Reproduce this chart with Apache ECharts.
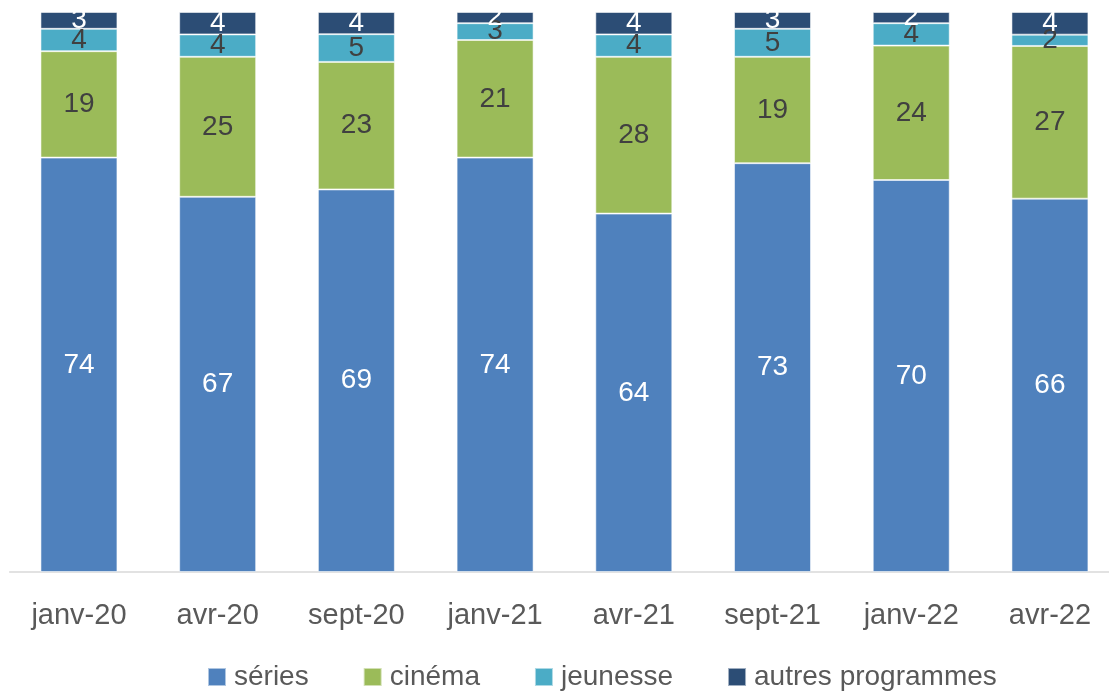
<!DOCTYPE html>
<html>
<head>
<meta charset="utf-8">
<script src="https://cdn.jsdelivr.net/npm/echarts@6/dist/echarts.min.js"></script>
<style>
  html, body { margin: 0; padding: 0; background: #fff; }
  #chart { width: 1109px; height: 691px; }
</style>
</head>
<body>
<div id="chart"></div>
<script>
// mois
const categories = ['janv-20', 'avr-20', 'sept-20', 'janv-21', 'avr-21', 'sept-21', 'janv-22', 'avr-22'];
// parts (%)
const series_ = [74, 67, 69, 74, 64, 73, 70, 66];
const cinema = [19, 25, 23, 21, 28, 19, 24, 27];
const jeunesse = [4, 4, 5, 3, 4, 5, 4, 2];
const autres = [3, 4, 4, 2, 4, 3, 2, 4];

const FONT = '"Liberation Sans", Arial, sans-serif';

// graphique 100% empilé : chaque barre ramenée à 100
const totals = categories.map((c, i) => series_[i] + cinema[i] + jeunesse[i] + autres[i]);
const toShare = arr => arr.map((v, i) => ({ value: v / totals[i] * 100, raw: v }));

function mkSerie(name, arr, color, labelColor) {
  return {
    name: name,
    type: 'bar',
    stack: 'total',
    barWidth: '55.5%',
    data: toShare(arr),
    itemStyle: { color: color, borderColor: 'rgba(255,255,255,0.55)', borderWidth: 1 },
    label: {
      show: true,
      position: 'inside',
      color: labelColor,
      fontFamily: FONT,
      fontSize: 28,
      formatter: p => p.data.raw
    },
    emphasis: { disabled: true }
  };
}

const chart = echarts.init(document.getElementById('chart'));
chart.setOption({
  animation: false,
  grid: {
    left: 9.6, right: -10.3, top: 12, bottom: 119,
    containLabel: false, outerBoundsMode: 'none'
  },
  legend: {
    top: 658,
    left: 202,
    itemWidth: 18,
    itemHeight: 18,
    itemGap: 54,
    icon: 'rect',
    textStyle: { fontFamily: FONT, fontSize: 28, color: '#595959', padding: [0, 0, 0, 3] },
    data: ['séries', 'cinéma', 'jeunesse', 'autres programmes']
  },
  xAxis: {
    type: 'category',
    data: categories,
    axisLine: { lineStyle: { color: '#D9D9D9', width: 1.5 } },
    axisTick: { show: false },
    axisLabel: { fontFamily: FONT, fontSize: 29, color: '#595959', margin: 29, interval: 0 }
  },
  yAxis: {
    type: 'value',
    min: 0,
    max: 100,
    show: false,
    splitLine: { show: false }
  },
  series: [
    mkSerie('séries', series_, '#4F81BD', '#ffffff'),
    mkSerie('cinéma', cinema, '#9BBB59', '#404040'),
    mkSerie('jeunesse', jeunesse, '#4BACC6', '#404040'),
    mkSerie('autres programmes', autres, '#2C4D75', '#ffffff')
  ]
});
</script>
</body>
</html>
